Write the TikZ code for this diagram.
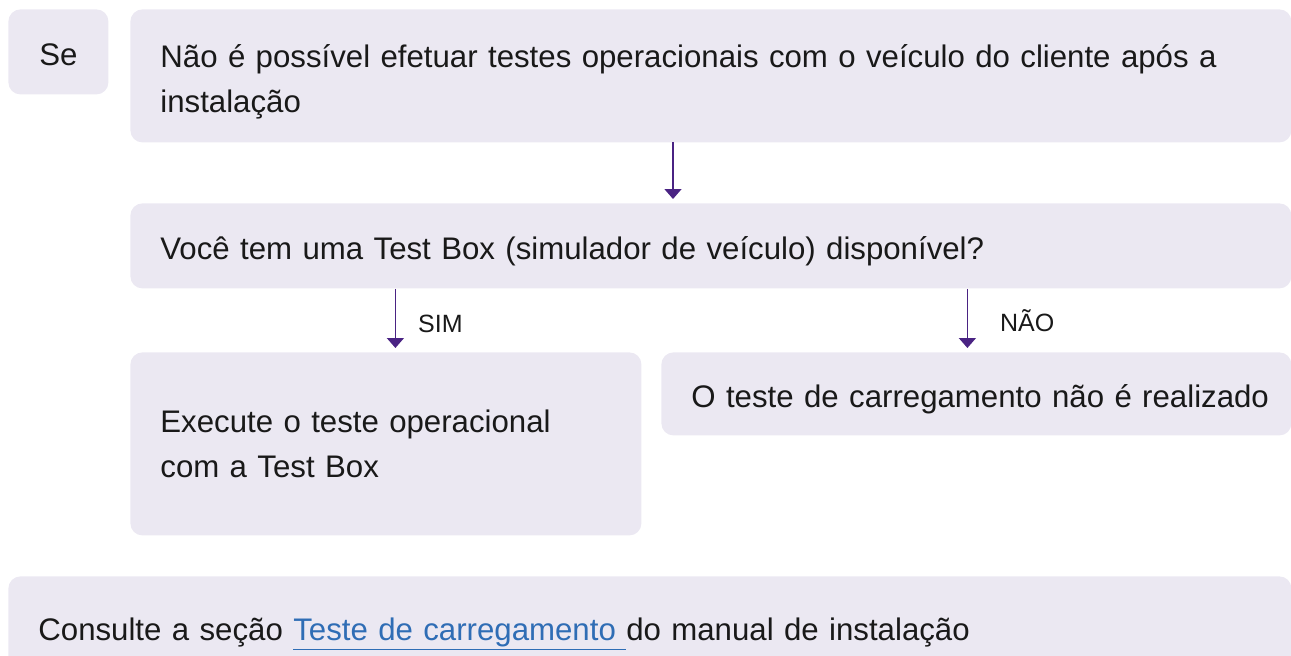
\documentclass[tikz,border=0pt]{standalone}
\usepackage{fontspec}
\setmainfont{Liberation Sans}
\usepackage{tikz}
\usetikzlibrary{positioning,arrows.meta,calc}

\definecolor{boxfill}{HTML}{EBE8F2}
\definecolor{arrowpurple}{HTML}{4A2383}
\definecolor{linkblue}{HTML}{2F6DB5}

\begin{document}
\begin{tikzpicture}[
    x=0.5pt, y=-0.5pt,
    every node/.style={font=\fontsize{15.6}{22.5}\selectfont, text=black!90},
    box/.style={fill=boxfill, rounded corners=6pt, anchor=north west, align=left, inner xsep=15pt, inner ysep=0pt},
    oneline/.style={text height=17pt, text depth=3pt},
    label/.style={font=\fontsize{12.5}{14}\selectfont, anchor=west, inner sep=0pt},
    arrow/.style={-{Triangle[width=8.5pt,length=5pt]}, line width=0.75pt, draw=arrowpurple, shorten >=2pt}
]
\useasboundingbox (0,0) rectangle (1291,655);

% condition
\node[box, oneline, align=center, inner xsep=0pt, minimum width=50pt, minimum height=42.5pt] (se) at (8,9) {Se};
\node[box, text width=550.5pt, minimum height=66.5pt] (cond) at (130,9)
    {\rule{0pt}{17pt}Não é possível efetuar testes operacionais com o veículo do cliente após a\\instalação};

% question
\node[box, oneline, text width=550.5pt, minimum height=42.5pt] (quest) at (130,203)
    {Você tem uma Test Box (simulador de veículo) disponível?};

% answers
\node[box, text width=225.5pt, minimum height=91.5pt] (yes) at (130,352)
    {Execute o teste operacional\\com a Test Box};
\node[box, oneline, text width=285pt, minimum height=41.5pt] (no) at (661,352)
    {\mbox{O teste de carregamento não é realizado}};

% reference
\node[box, oneline, text width=611.5pt, minimum height=50pt] (ref) at (8,576)
    {Consulte a seção \textcolor{linkblue}{\underline{Teste de carregamento\ }}do manual de instalação};

% connectors
\coordinate (c1) at (673,142);
\draw[arrow] (c1) -- (c1 |- quest.north);
\draw[arrow] ([xshift=4.75pt]yes.north |- quest.south) -- ([xshift=4.75pt]yes.north) node[label, pos=0.55, right=11pt] {SIM};
\draw[arrow] ([xshift=-4.5pt]no.north |- quest.south) -- ([xshift=-4.5pt]no.north) node[label, pos=0.5, right=16pt] {NÃO};

\end{tikzpicture}
\end{document}
